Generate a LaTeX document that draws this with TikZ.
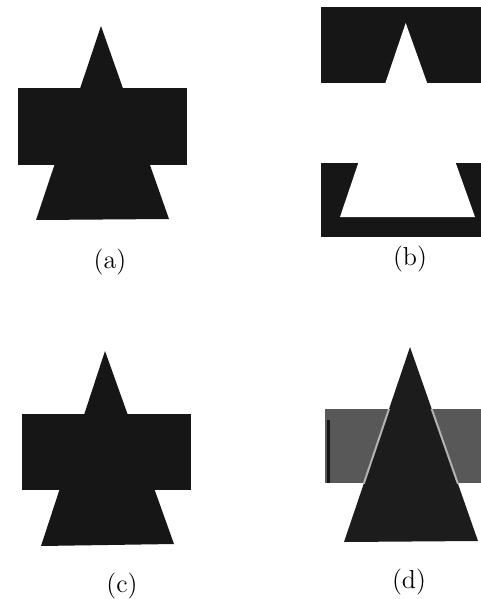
\documentclass[tikz,border=0pt]{standalone}
\usepackage{tikz}
\usetikzlibrary{positioning}
\definecolor{cInk}{HTML}{161616}
\definecolor{cTri}{HTML}{1C1C1C}
\definecolor{cGrey}{HTML}{585858}
\tikzset{
  ink/.style={fill=cInk,draw=none},
  hole/.style={fill=white,draw=none},
  lbl/.style={font=\fontsize{13}{15}\selectfont,inner sep=0pt}}
\begin{document}
\begin{tikzpicture}[x=0.5pt,y=-0.5pt]
\useasboundingbox (0,0) rectangle (481,599);
% (a) rectangle and triangle together
\fill[ink] (18,88) rectangle (187,165);
\fill[ink] (101,26) -- (169,219) -- (36,220) -- cycle;
\node[lbl] (capA) at (110,262) {(a)};
% (b) the same shape cut out of a box
\fill[ink] (321,7) rectangle (481,237);
\fill[hole] (321,83) rectangle (481,163);
\fill[hole] (405.7,23) -- (475,217) -- (340,217) -- cycle;
\node[lbl] (capB) at (410,259) {(b)};
% (c)
\fill[ink] (22,414) rectangle (191,490);
\fill[ink] (105,351) -- (174,544) -- (41,546) -- cycle;
\node[lbl] (capC) at (122,586) {(c)};
% (d) grey rectangle behind the triangle
\fill[cGrey] (325,409) rectangle (481,483);
\draw[cInk,line width=1.5pt] (328,420) -- (328,483);
\fill[cTri] (410,347) -- (478,541) -- (344,542) -- cycle;
\begin{scope}
  \clip (325,409) rectangle (481,483);
  \draw[black!30,line width=1pt] (410,347) -- (478,541) (410,347) -- (344,542);
\end{scope}
\node[lbl] (capD) at (409,582) {(d)};
\end{tikzpicture}
\end{document}
